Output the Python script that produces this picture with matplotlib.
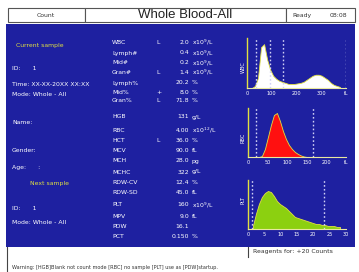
import matplotlib
matplotlib.use("Agg")
import matplotlib.pyplot as plt
import numpy as np
from matplotlib.patches import Rectangle

W, H = 359, 272
BLUE = "#1e20a0"
YEL = "#e0e040"

# result table
params = ["WBC", "Lymph#", "Mid#", "Gran#", "Lymph%", "Mid%", "Gran%", "HGB",
          "RBC", "HCT", "MCV", "MCH", "MCHC", "RDW-CV", "RDW-SD",
          "PLT", "MPV", "PDW", "PCT"]
flags = ["L", "", "", "L", "", "+", "L", "", "", "L", "", "", "", "", "", "", "", "", ""]
values = ["2.0", "0.4", "0.2", "1.4", "20.2", "8.0", "71.8", "131",
          "4.00", "36.0", "90.0", "28.0", "322", "12.4", "45.0",
          "160", "9.0", "16.1", "0.150"]
units = ["x10$^9$/L", "x10$^9$/L", "x10$^9$/L", "x10$^9$/L", "%", "%", "%", "g/L",
         "x10$^{12}$/L", "%", "fL", "pg", "g/L", "%", "fL",
         "x10$^9$/L", "fL", "", "%"]
row_y = [42, 53, 63, 72, 83, 92, 101, 117,
         130, 140, 150, 161, 172, 182, 193,
         205, 216, 226, 236]

# histograms (relative counts per channel)
wbc_counts = [0, 2, 10, 40, 43, 28, 18, 12, 9, 7, 6, 5, 4, 4, 4,
              4.5, 5, 6, 8, 10, 12, 13, 13, 12, 10, 8, 5, 3, 2, 1]
wbc_lines = [37, 94, 147, 398]
wbc_ticks = ["0", "100", "200", "300", "fL"]

rbc_counts = [0, 0, 0, 1, 8, 20, 32, 42, 44, 36, 26, 18, 12, 8, 5,
              3, 1.5, 0.5, 0, 0, 0, 0, 0, 0, 0, 0, 0, 0, 0, 0]
rbc_lines = [21, 166]
rbc_ticks = ["0", "50", "100", "150", "200", "fL"]

plt_counts = [3, 15, 25, 32, 36, 38, 37, 33, 28, 25, 23, 21, 18, 15, 12,
              11, 10, 9, 8, 7, 6, 5, 5, 4, 4, 3, 3, 3, 2, 2]
plt_lines = [1.2, 23.4]
plt_ticks = ["0", "5", "10", "15", "20", "25", "30"]

left_text = [("Current sample", 45, 16, YEL), ("ID:      1", 68, 12, "white"),
             ("Time: XX-XX-20XX XX:XX", 84, 12, "white"),
             ("Mode: Whole - All", 95, 12, "white"),
             ("Name:", 123, 12, "white"), ("Gender:", 151, 12, "white"),
             ("Age:      :", 167, 12, "white"), ("Next sample", 183, 30, YEL),
             ("ID:      1", 208, 12, "white"), ("Mode: Whole - All", 222, 12, "white")]

fig = plt.figure(figsize=(W / 100, H / 100), dpi=100)
bg = fig.add_axes([0, 0, 1, 1])
bg.set_xlim(0, W)
bg.set_ylim(H, 0)
bg.axis("off")

fs = 4.4
# header
for x0, x1 in [(8, 85), (85, 286), (286, 355)]:
    bg.add_patch(Rectangle((x0, 8), x1 - x0, 14, fc="white", ec="#555555", lw=0.8))
bg.text(46, 15.5, "Count", fontsize=fs, ha="center", va="center", color="#333333")
bg.text(185, 15.5, "Whole Blood-All", fontsize=9.5, ha="center", va="center",
        color="#222222", family="Liberation Sans")
bg.text(302, 15.5, "Ready", fontsize=fs, ha="center", va="center", color="#333333")
bg.text(338, 15.5, "08:08", fontsize=fs, ha="center", va="center", color="#333333")

# main panel
bg.add_patch(Rectangle((6, 24), 349, 223, fc=BLUE, ec="none"))
for s, y, x, c in left_text:
    bg.text(x, y, s, fontsize=fs, color=c, va="center")
for p, f, v, u, y in zip(params, flags, values, units, row_y):
    bg.text(112, y, p, fontsize=fs, color="white", va="center")
    bg.text(156, y, f, fontsize=fs, color="white", va="center")
    bg.text(189, y, v, fontsize=fs, color="white", va="center", ha="right")
    bg.text(192, y, u, fontsize=fs, color="white", va="center")

# bottom area
bg.plot([248, 248], [247, 257], color="#444444", lw=0.8)
bg.text(253, 252, "Reagents for: +20 Counts", fontsize=fs, color="#333333", va="center")
bg.plot([7, 7], [247, 272], color="#444444", lw=0.8)
bg.text(12, 267, "Warning: [HGB]Blank not count mode [RBC] no sample [PLT] use as [PDW]startup.",
        fontsize=3.6, color="#333333", va="center")


def hist_axes(px0, px1, py0, py1, xmax, counts, lines, ticks, fill, side, sidey):
    ax = fig.add_axes([px0 / W, 1 - py1 / H, (px1 - px0) / W, (py1 - py0) / H])
    ax.patch.set_alpha(0)
    n = len(counts)
    step = xmax * 0.92 / n
    xs = xmax * 0.05 + np.arange(n) * step
    ax.fill_between(xs, counts, color=fill, lw=0.6, ec=YEL)
    for d in lines:
        ax.axvline(d, color="#d0d0f4", lw=1.0, ls=(0, (1.2, 1.6)))
    ax.set_xlim(0, xmax)
    ax.set_ylim(0, 49)
    ax.set_xticks(np.linspace(0, xmax, len(ticks)))
    ax.set_xticklabels(ticks)
    ax.set_yticks([])
    ax.tick_params(axis="x", length=0, pad=2.5, labelsize=3.6, labelcolor="white")
    for s in ["top", "right"]:
        ax.spines[s].set_visible(False)
    ax.spines["left"].set_color(YEL)
    ax.spines["bottom"].set_color("#e8e8a0")
    ax.spines["left"].set_linewidth(1.0)
    ax.spines["bottom"].set_linewidth(0.8)
    bg.text(243, sidey, side, fontsize=3.6, color="white", rotation=90,
            ha="center", va="center")
    return ax


hist_axes(247, 346, 38, 88, 400, wbc_counts, wbc_lines, wbc_ticks, "white", "WBC", 67)
hist_axes(248, 346, 108, 157, 250, rbc_counts, rbc_lines, rbc_ticks, "#ff1010", "RBC", 138)
hist_axes(248, 346, 180, 229, 30, plt_counts, plt_lines, plt_ticks, "#8cd010", "PLT", 200)

fig.savefig("out.png", dpi=100)
